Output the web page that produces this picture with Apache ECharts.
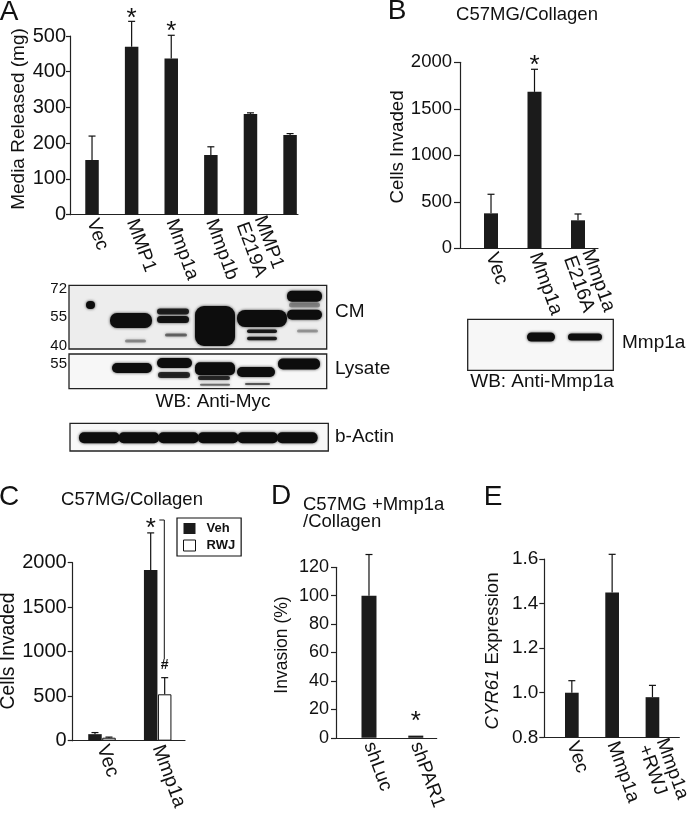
<!DOCTYPE html>
<html><head><meta charset="utf-8">
<script src="https://cdn.jsdelivr.net/npm/echarts@6/dist/echarts.min.js"></script>
<style>html,body{margin:0;padding:0;background:#fff}#c{width:693px;height:813px}</style>
</head><body><div id="c"></div>
<script>
// ---------- data ----------
// Panel A
const catA = ['Vec', 'MMP1', 'Mmp1a', 'Mmp1b', 'MMP1\nE219A', 'Mmp1a\nE216A'];
const valA = [153, 470, 437, 167, 282, 223];
const errA = [220, 541, 502, 190, 285, 227];
const sigA = ['', '*', '*', '', '', ''];
// Panel B
const catB = ['Vec', 'Mmp1a', 'Mmp1a\nE216A'];
const valB = [376, 1682, 301];
const errB = [581, 1925, 369];
const sigB = ['', '*', ''];
// Panel C
const catC = ['Vec', 'Mmp1a'];
const vehC = [73, 1919];
const vehErrC = [91, 2335];
const vehSigC = ['', '*'];
const rwjC = [33, 521];
const rwjErrC = [40, 708];
const rwjSigC = ['', '#'];
// Panel D
const catD = ['shLuc', 'shPAR1'];
const valD = [100, 1.5];
const errD = [129, 1.5];
const sigD = ['', '*'];
// Panel E
const catE = ['Vec', 'Mmp1a', 'Mmp1a\n+RWJ'];
const valE = [1.0, 1.45, 0.98];
const errE = [1.054, 1.621, 1.033];
const sigE = ['', '', ''];

// ---------- helpers ----------
const FF = '"Liberation Sans", Arial, Helvetica, sans-serif';
const INK = '#111';
const BAR = '#1b1b1b';

const grid = [
  {left: 70, top: 36, width: 228, height: 178.7},
  {left: 460, top: 62.3, width: 138, height: 186},
  {left: 72.7, top: 562.7, width: 112.3, height: 181.6},
  {left: 336, top: 567.3, width: 100.7, height: 171},
  {left: 544.3, top: 559, width: 145.7, height: 178.3}
];

function xAx(gi, min, max, cats, pos, fs) {
  return {
    type: 'value', gridIndex: gi, min: min, max: max,
    splitLine: {show: false},
    axisLine: {show: true, onZero: false, lineStyle: {color: '#222', width: 1.2}},
    axisTick: {show: false},
    axisLabel: {
      customValues: pos,
      formatter: function (v) { return cats[Math.round(v)]; },
      rotate: -70, margin: 5, fontSize: fs, lineHeight: fs, color: INK, fontFamily: FF
    }
  };
}
function yAx(gi, min, max, interval, fs, margin, tickLen, fmt) {
  return {
    type: 'value', gridIndex: gi, min: min, max: max, interval: interval,
    splitLine: {show: false},
    axisLine: {show: true, onZero: false, lineStyle: {color: '#222', width: 1.2}},
    axisTick: {show: true, length: tickLen, lineStyle: {color: '#222', width: 1.2}},
    axisLabel: {fontSize: fs, color: INK, fontFamily: FF, margin: margin,
      formatter: fmt || function (v) { return String(v); }}
  };
}
function barSeries(gi, xs, vals, width, style, name) {
  return {
    type: 'bar', name: name, xAxisIndex: gi, yAxisIndex: gi,
    barWidth: width, barGap: '-100%',
    data: vals.map(function (v, i) { return [xs[i], v]; }),
    itemStyle: style || {color: BAR},
    silent: true
  };
}
function errSeries(gi, xs, vals, errs, sigs, off, font) {
  return {
    type: 'custom', xAxisIndex: gi, yAxisIndex: gi, z: 5, silent: true,
    data: vals.map(function (v, i) { return [xs[i], v, errs[i]]; }),
    renderItem: function (params, api) {
      const x = api.value(0), v = api.value(1), e = api.value(2);
      const p0 = api.coord([x, v]), p1 = api.coord([x, e]);
      const ch = [];
      if (e > v) {
        ch.push({type: 'line', shape: {x1: p0[0], y1: p0[1], x2: p1[0], y2: p1[1]},
          style: {stroke: INK, lineWidth: 1.2}});
        ch.push({type: 'line', shape: {x1: p1[0] - 3.5, y1: p1[1], x2: p1[0] + 3.5, y2: p1[1]},
          style: {stroke: INK, lineWidth: 1.2}});
      }
      const s = sigs[params.dataIndex];
      if (s) {
        ch.push({type: 'text', style: {text: s, x: p1[0], y: p1[1] - off, font: font,
          fill: INK, textAlign: 'center', textVerticalAlign: 'middle'}});
      }
      return {type: 'group', children: ch};
    }
  };
}
const idx = function (arr, d) { return arr.map(function (_, i) { return i + (d || 0); }); };

// ---------- graphics (labels, western blots) ----------
const G = [];
function txt(t, x, y, fs, opt) {
  opt = opt || {};
  G.push({type: 'text', x: x, y: y, rotation: opt.rot || 0, silent: true,
    style: {text: t, fill: INK, font: (opt.weight || 'normal') + ' ' + fs + 'px ' + FF,
      textAlign: opt.align || 'center', textVerticalAlign: 'middle', rich: opt.rich}});
}
function box(x, y, w, h, fill) {
  G.push({type: 'rect', silent: true, shape: {x: x, y: y, width: w, height: h},
    style: {fill: fill, stroke: '#222', lineWidth: 1.3}, z: 1});
}
function band(x1, x2, yc, h, op, r) {
  const rr = r == null ? Math.min(h / 2, 5) : r;
  G.push({type: 'rect', silent: true, z: 2,
    shape: {x: x1, y: yc - h / 2, width: x2 - x1, height: h, r: rr},
    style: {fill: '#0d0d0d', opacity: op == null ? 1 : op, shadowBlur: 3, shadowColor: 'rgba(0,0,0,0.75)'}});
}

// panel letters
txt('A', 9, 12, 28); txt('B', 397, 11, 28); txt('C', 9, 497, 28); txt('D', 281, 496, 28); txt('E', 493, 497, 28);
// titles
txt('C57MG/Collagen', 527, 15, 18.5);
txt('C57MG/Collagen', 132, 500, 18.5);
txt('C57MG +Mmp1a', 303, 505, 18.5, {align: 'left'});
txt('/Collagen', 303, 522, 18.5, {align: 'left'});
// y-axis titles
const R90 = Math.PI / 2;
txt('Media Released (mg)', 19, 119, 19, {rot: R90});
txt('Cells Invaded', 398, 147, 18.7, {rot: R90});
txt('Cells Invaded', 9, 651, 19.3, {rot: R90});
txt('Invasion (%)', 282, 645, 17.5, {rot: R90});
txt('{i|CYR61} Expression', 493, 651, 18.6, {rot: R90,
  rich: {i: {fontStyle: 'italic', fontSize: 18.6, fontFamily: FF, fill: INK}}});

// Western blot, panel A
box(69, 285.3, 257.7, 63.7, '#ededed');
box(69, 354, 257.7, 34.7, '#f7f7f7');
box(70, 423.3, 258.3, 27.7, '#f8f8f8');
txt('72', 67, 289, 15, {align: 'right'});
txt('55', 67, 317, 15, {align: 'right'});
txt('40', 67, 346, 15, {align: 'right'});
txt('55', 67, 364, 15, {align: 'right'});
txt('CM', 335, 312, 19, {align: 'left'});
txt('Lysate', 335, 369, 19, {align: 'left'});
txt('b-Actin', 335, 437, 19, {align: 'left'});
txt('WB: Anti-Myc', 213, 402, 19);
// CM bands
band(86, 95, 305, 8, 1);
band(110, 152, 320.5, 15, 1, 7);
band(125, 146, 341, 3, 0.35);
band(157, 189, 311.5, 6, 0.85);
band(157, 189, 319.5, 7, 0.95);
band(165, 187, 335, 3, 0.5);
band(195, 235, 326, 40, 1, 9);
band(237, 287, 318.5, 17, 1, 8);
band(247, 277, 331.3, 3.5, 0.9);
band(247, 277, 338.5, 3.5, 0.9);
band(287, 322, 296.3, 11, 1);
band(289, 320, 305, 5, 0.35);
band(287, 322, 314.7, 10, 1);
band(297, 318, 331, 3, 0.3);
// Lysate bands
band(112, 152, 368, 10, 1);
band(157, 192, 363, 10, 1);
band(158, 190, 375, 6, 0.8);
band(195, 235, 368.7, 13, 1);
band(198, 230, 378, 4, 0.8);
band(200, 230, 384.7, 2, 0.5);
band(237, 275, 372, 10, 1);
band(245, 270, 384, 2, 0.6);
band(278, 320, 364, 11, 1);
// b-Actin bands
for (let i = 0; i < 6; i++) band(79 + i * 39.6, 79 + (i + 1) * 39.6 + 1, 437.7, 11, 1);

// Western blot, panel B
box(467.7, 319.3, 145.6, 51, '#f7f7f7');
band(527, 555, 337, 9, 1);
band(568, 602, 337, 7, 1);
txt('Mmp1a', 622, 343, 19, {align: 'left'});
txt('WB: Anti-Mmp1a', 542, 382, 19);

// bracket in C
G.push({type: 'polyline', silent: true, shape: {points: [[159.3, 520], [164.3, 520], [164.3, 659]]},
  style: {stroke: INK, lineWidth: 1, fill: null}});

// ---------- option ----------
const xC_rwj = idx(catC, 0.2513);
const option = {
  animation: false,
  backgroundColor: '#fff',
  grid: grid,
  legend: {
    left: 177, top: 518, orient: 'vertical',
    data: [{name: 'Veh'}, {name: 'RWJ', itemStyle: {color: '#fff', borderColor: INK, borderWidth: 1}}],
    icon: 'rect', itemWidth: 12, itemHeight: 11, itemGap: 4,
    padding: [4, 6, 4, 6], borderColor: INK, borderWidth: 1.2, borderRadius: 0,
    textStyle: {fontWeight: 'bold', fontSize: 13, fontFamily: FF, color: INK, padding: [0, 0, 0, 6]}
  },
  xAxis: [
    xAx(0, -0.556, 5.2, catA, idx(catA), 19),
    xAx(1, -0.713, 2.46, catB, idx(catB), 19.5),
    xAx(2, -0.40, 1.616, catC, idx(catC, 0.125), 19.5),
    xAx(3, -0.705, 1.447, catD, idx(catD), 19),
    xAx(4, -0.683, 2.667, catE, idx(catE), 19)
  ],
  yAxis: [
    yAx(0, 0, 500, 100, 20, 4, 4),
    yAx(1, 0, 2000, 500, 18.5, 8, 6),
    yAx(2, 0, 2000, 500, 20, 6, 5),
    yAx(3, 0, 120, 20, 18, 7, 5),
    yAx(4, 0.8, 1.6, 0.2, 19, 6, 5, function (v) { return v.toFixed(1); })
  ],
  series: [
    barSeries(0, idx(catA), valA, 13.5),
    errSeries(0, idx(catA), valA, errA, sigA, 3, '26px ' + FF),
    barSeries(1, idx(catB), valB, 14),
    errSeries(1, idx(catB), valB, errB, sigB, 3, '26px ' + FF),
    barSeries(2, idx(catC), vehC, 13.5, {color: BAR}, 'Veh'),
    barSeries(2, xC_rwj, rwjC, 13.5, {color: '#fff', borderColor: INK, borderWidth: 1}, 'RWJ'),
    errSeries(2, idx(catC), vehC, vehErrC, vehSigC, 4, '26px ' + FF),
    errSeries(2, xC_rwj, rwjC, rwjErrC, rwjSigC, 13, 'bold 14px ' + FF),
    barSeries(3, idx(catD), valD, 15),
    errSeries(3, idx(catD), valD, errD, sigD, 14, '26px ' + FF),
    barSeries(4, idx(catE), valE, 13.7),
    errSeries(4, idx(catE), valE, errE, sigE, 3, '26px ' + FF)
  ],
  graphic: {elements: G}
};
const chart = echarts.init(document.getElementById('c'), null, {renderer: 'canvas'});
chart.setOption(option);
</script>
</body></html>
